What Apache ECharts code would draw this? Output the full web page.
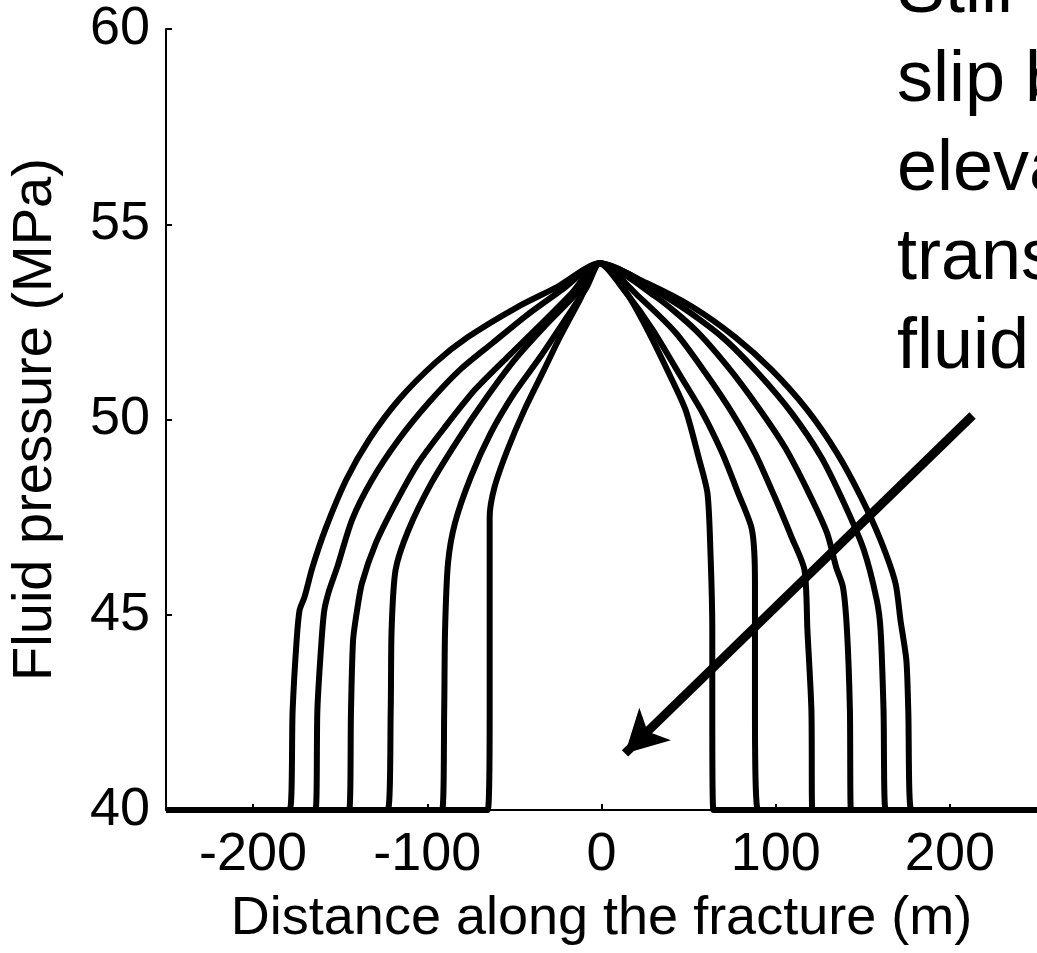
<!DOCTYPE html>
<html>
<head>
<meta charset="utf-8">
<script src="https://cdn.jsdelivr.net/npm/echarts@6/dist/echarts.min.js"></script>
<style>html,body{margin:0;padding:0;background:#fff}#c{width:1037px;height:953px}</style>
</head>
<body>
<div id="c"></div>
<script>
// Axis settings
const xTicks = [-200, -100, 0, 100, 200];
const yTicks = [40, 45, 50, 55, 60];
const xTitle = 'Distance along the fracture (m)';
const yTitle = 'Fluid pressure (MPa)';
const noteLines = ['Still no', 'slip because', 'elevated', 'transient', 'fluid pressure'];

// Peak of all profiles
const peak = [-1, 54];

// Left flanks (innermost L1 .. outermost L6), from the bottom up to the peak
const L1 = [[-65.3,40],[-64.2,42.56],[-64.2,44.61],[-64.2,47.5],[-61.4,48.27],[-54.0,49.22],[-44.3,50.24],[-33.0,51.27],[-23.9,52.11],[-12.5,53.06]];
const L2 = [[-91.5,40],[-90.3,42.56],[-89.8,44.61],[-88.1,46.33],[-84.1,47.35],[-75.0,48.53],[-63.6,49.65],[-50.0,50.68],[-35.2,51.6],[-19.9,52.62],[-8.5,53.39]];
const L3 = [[-122.7,40],[-121.0,42.56],[-120.5,44.61],[-118.2,46.15],[-110.8,47.17],[-97.7,48.37],[-82.4,49.48],[-67.0,50.5],[-50.0,51.52],[-33.0,52.37],[-14.2,53.24]];
const L4 = [[-144.9,40],[-143.8,42.56],[-142.6,44.35],[-140.3,45.12],[-137.5,45.81],[-129.5,46.84],[-118.2,47.86],[-105.1,48.89],[-89.8,49.81],[-72.7,50.76],[-54.0,51.6],[-34.1,52.47],[-17.0,53.24]];
const L5 = [[-164.2,40],[-163.1,42.56],[-160.8,44.28],[-159.1,45.12],[-156.3,45.63],[-151.7,46.22],[-143.2,47.43],[-131.8,48.45],[-116.5,49.48],[-99.4,50.42],[-81.3,51.27],[-62.5,51.96],[-42.6,52.68],[-22.7,53.32]];
const L6 = [[-179.0,40],[-177.3,42.56],[-175.0,44.35],[-173.3,45.12],[-170.5,45.45],[-165.9,46.22],[-158.0,47.25],[-146.6,48.45],[-133.5,49.48],[-116.5,50.5],[-95.5,51.45],[-76.7,52.11],[-48.3,52.88],[-25.6,53.39]];

// Right flanks (innermost R1 .. outermost R6), from the bottom up to the peak
const R1 = [[64.2,40],[63.6,42.56],[63.6,44.61],[62.5,46.66],[60.8,48.12],[55.7,49.04],[48.3,50.24],[38.6,51.19],[27.3,52.22],[15.9,53.14],[4.5,53.83]];
const R2 = [[89.8,40],[88.1,42.56],[88.1,44.61],[88.1,45.81],[86.4,47.17],[78.4,48.12],[69.3,49.14],[58.0,50.17],[44.3,51.19],[29.5,52.29],[14.2,53.24]];
const R3 = [[121.0,40],[120.5,42.56],[118.2,44.61],[116.5,46.15],[109.1,46.99],[99.4,48.02],[88.1,49.14],[75.0,50.17],[59.7,51.19],[42.6,52.22],[21.6,53.14]];
const R4 = [[143.2,40],[142.6,42.56],[140.9,44.61],[138.6,45.71],[134.7,46.22],[129.5,47.09],[118.2,48.19],[105.1,49.3],[89.8,50.32],[72.7,51.34],[54.0,52.29],[31.3,53.14]];
const R5 = [[163.1,40],[161.9,42.56],[160.2,44.61],[158.0,45.38],[150.6,46.66],[139.2,47.86],[126.1,49.04],[109.1,50.17],[89.8,51.19],[69.3,52.11],[42.6,52.98]];
const R6 = [[177.8,40],[176.1,42.56],[175.0,43.84],[171.6,44.87],[168.75,45.81],[160.2,46.91],[148.9,48.02],[135.2,49.14],[118.2,50.24],[97.7,51.27],[76.7,52.11],[52.3,52.88],[25.6,53.5]];

// Arrow annotation (data coordinates): start, tip
const arrowFrom = [213, 50.1];
const arrowTo = [13.5, 41.45];

const lefts = [L1, L2, L3, L4, L5, L6];
const rights = [R1, R2, R3, R4, R5, R6];

const FONT = 'Arial, "Liberation Sans", Helvetica, sans-serif';

const series = lefts.map((L, i) => {
  const R = rights[i];
  const data = [[-250, 40]].concat(L, [peak], R.slice().reverse(), [[250, 40]]);
  return {
    type: 'line',
    data: data,
    showSymbol: false,
    smooth: 0.25,
    lineStyle: { color: '#000', width: 6 },
    animation: false
  };
});

series.push({
  type: 'line',
  data: [],
  markLine: {
    silent: true,
    symbol: ['none', 'arrow'],
    symbolSize: [34, 42],
    label: { show: false },
    lineStyle: { color: '#000', width: 9, type: 'solid' },
    data: [[{ coord: arrowFrom }, { coord: arrowTo }]]
  },
  animation: false
});

const chart = echarts.init(document.getElementById('c'), null, { renderer: 'canvas' });
chart.setOption({
  backgroundColor: '#fff',
  animation: false,
  grid: { left: 166, right: -8, top: 29, bottom: 143, containLabel: false },
  xAxis: {
    type: 'value', min: -250, max: 250, interval: 50,
    axisLine: { show: true, onZero: false, lineStyle: { color: '#000', width: 2 } },
    axisTick: { show: true, inside: true, length: 6, lineStyle: { color: '#000', width: 2 },
      customValues: xTicks },
    axisLabel: { color: '#000', fontSize: 54, fontFamily: FONT, margin: 18,
      customValues: xTicks, formatter: v => String(v) },
    splitLine: { show: false },
    name: xTitle, nameLocation: 'middle', nameGap: 82,
    nameTextStyle: { color: '#000', fontSize: 54, fontFamily: FONT }
  },
  yAxis: {
    type: 'value', min: 40, max: 60, interval: 5,
    axisLine: { show: true, onZero: false, lineStyle: { color: '#000', width: 2 } },
    axisTick: { show: true, inside: true, length: 6, lineStyle: { color: '#000', width: 2 } },
    axisLabel: { color: '#000', fontSize: 54, fontFamily: FONT, margin: 16 },
    splitLine: { show: false },
    name: yTitle, nameLocation: 'middle', nameGap: 102, nameRotate: 90,
    nameTextStyle: { color: '#000', fontSize: 56, fontFamily: FONT }
  },
  graphic: noteLines.map((t, i) => ({
    type: 'text', left: 897, top: -44 + i * 89, silent: true,
    style: { text: t, fill: '#000', fontSize: 72, fontFamily: FONT }
  })),
  series: series
});
</script>
</body>
</html>
